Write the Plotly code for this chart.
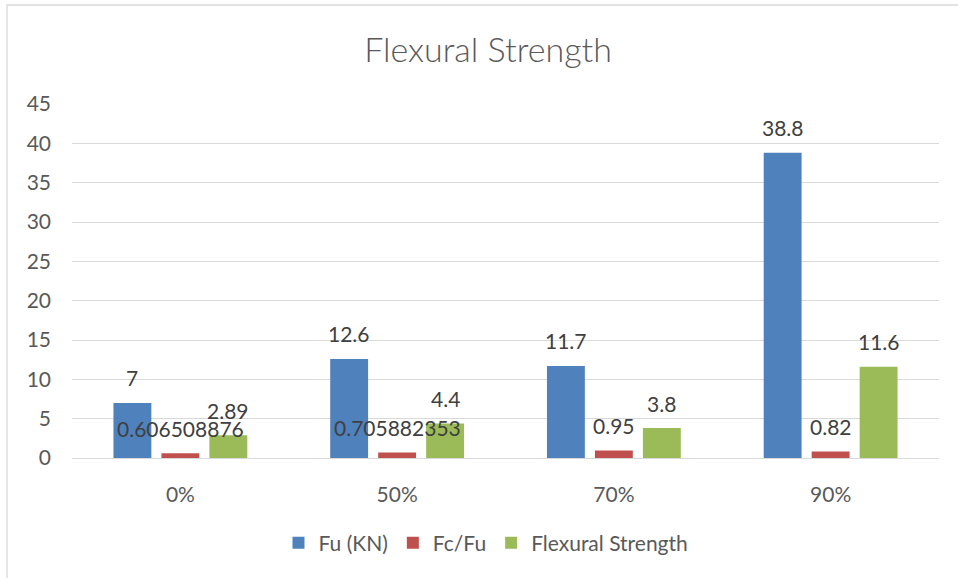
import plotly.graph_objects as go

# Chart data
categories = ["0%", "50%", "70%", "90%"]
series_names = ["Fu (KN)", "Fc/Fu", "Flexural Strength"]
fu_kn = [7, 12.6, 11.7, 38.8]
fc_fu = [0.606508876, 0.705882353, 0.95, 0.82]
flexural_strength = [2.89, 4.4, 3.8, 11.6]
label_text = [
    ["7", "12.6", "11.7", "38.8"],
    ["0.606508876", "0.705882353", "0.95", "0.82"],
    ["2.89", "4.4", "3.8", "11.6"],
]
y_ticks = [0, 5, 10, 15, 20, 25, 30, 35, 40, 45]

colors = ["#4F81BD", "#C0504D", "#9BBB59"]
series_values = [fu_kn, fc_fu, flexural_strength]

# Page and plot-area geometry (px)
W, H = 958, 578
M_L, M_R, M_T, M_B = 72, 19, 104, 120
plot_w = W - M_L - M_R
plot_h = H - M_T - M_B
BARGAP = 0.336
BARGROUPGAP = 0.21

FONT = "Lato, Calibri, 'Open Sans', sans-serif"
TEXT_GREY = "#595959"
LABEL_GREY = "#404040"
GRID = "#D9D9D9"

fig = go.Figure()
for name, vals, col in zip(series_names, series_values, colors):
    fig.add_trace(go.Bar(
        x=categories, y=vals, name=name,
        marker=dict(color=col, line=dict(width=0)),
    ))

# Data labels centred over each bar
cat_w = plot_w / len(categories)
slot = cat_w * (1 - BARGAP) / len(series_values)
for i, (vals, texts) in enumerate(zip(series_values, label_text)):
    offset = (i - (len(series_values) - 1) / 2) * slot
    for cat, v, t in zip(categories, vals, texts):
        fig.add_annotation(
            x=cat, y=v, text=t, showarrow=False,
            xanchor="center", yanchor="middle",
            xshift=offset, yshift=25,
            font=dict(family=FONT, size=21, color=LABEL_GREY),
        )

# Chart-area border
fig.add_shape(
    type="rect", xref="paper", yref="paper", layer="below",
    x0=(7 - M_L) / plot_w, x1=(W + 20 - M_L) / plot_w,
    y0=-(M_B + 20) / plot_h, y1=(plot_h + M_T - 5) / plot_h,
    line=dict(color=GRID, width=1.3), fillcolor="rgba(0,0,0,0)",
)

fig.update_layout(
    width=W, height=H,
    margin=dict(l=M_L, r=M_R, t=M_T, b=M_B),
    paper_bgcolor="white", plot_bgcolor="white",
    barmode="group", bargap=BARGAP, bargroupgap=BARGROUPGAP,
    title=dict(
        text="Flexural Strength", x=488 / W, xanchor="center",
        y=1 - 50 / H, yanchor="middle",
        font=dict(family=FONT, size=34, color=TEXT_GREY, weight=300),
    ),
    legend=dict(
        orientation="h", x=(486 - M_L) / plot_w, xanchor="center",
        y=(M_T + plot_h - 543) / plot_h, yanchor="middle",
        font=dict(family=FONT, size=21, color=TEXT_GREY),
        traceorder="normal",
    ),
    showlegend=True,
    xaxis=dict(
        showgrid=False, showline=True, linecolor=GRID, linewidth=1.3,
        ticks="", tickfont=dict(family=FONT, size=21, color=TEXT_GREY),
        ticklabelstandoff=18,
    ),
    yaxis=dict(
        range=[0, 45], tickvals=y_ticks, showgrid=True, gridcolor=GRID,
        gridwidth=1.3, zeroline=False, showline=False, ticks="",
        tickfont=dict(family=FONT, size=21, color=TEXT_GREY),
        ticklabelstandoff=20,
    ),
)

fig.write_html("out.html")
